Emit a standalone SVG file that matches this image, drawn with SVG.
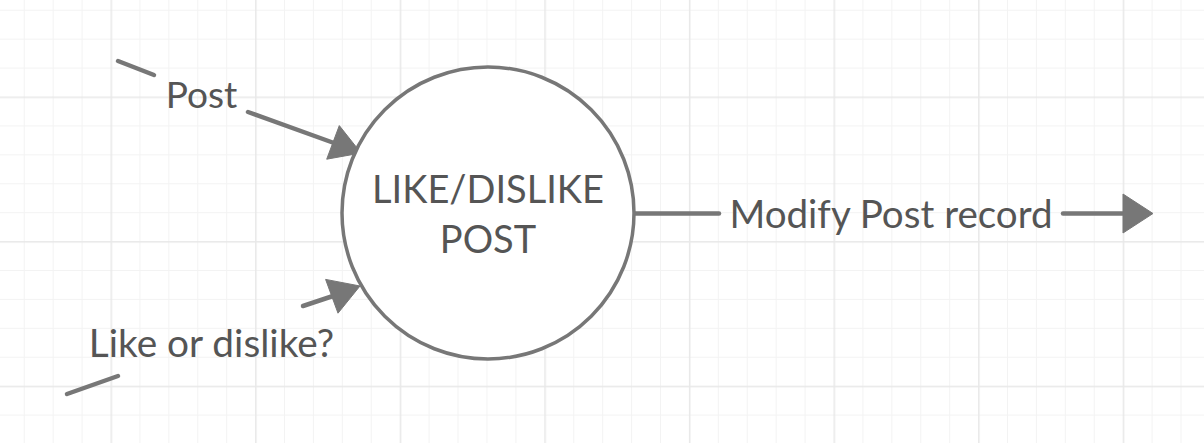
<svg xmlns="http://www.w3.org/2000/svg" width="1204" height="443" viewBox="0 0 1204 443">
  <defs>
    <pattern id="grid" patternUnits="userSpaceOnUse" x="110.5" y="96.5" width="144.6" height="144.6">
      <g fill="#f3f3f3">
        <rect x="28.92" y="0" width="1" height="144.6"/>
        <rect x="57.84" y="0" width="1" height="144.6"/>
        <rect x="86.76" y="0" width="1" height="144.6"/>
        <rect x="115.68" y="0" width="1" height="144.6"/>
        <rect x="0" y="28.92" width="144.6" height="1"/>
        <rect x="0" y="57.84" width="144.6" height="1"/>
        <rect x="0" y="86.76" width="144.6" height="1"/>
        <rect x="0" y="115.68" width="144.6" height="1"/>
      </g>
      <g fill="#e8e8e8">
        <rect x="0" y="0" width="1.5" height="144.6"/>
        <rect x="0" y="0" width="144.6" height="1.5"/>
      </g>
    </pattern>
    <style>
      .lbl { font-family: Lato, "Liberation Sans", sans-serif; fill: #555555; }
      .conn { stroke: #777777; stroke-width: 4.5; fill: none; stroke-linecap: round; }
      .head { fill: #777777; stroke: #777777; stroke-width: 1; stroke-linejoin: round; }
    </style>
  </defs>
  <rect width="1204" height="443" fill="#ffffff"/>
  <rect width="1204" height="443" fill="url(#grid)"/>

  <g id="connectors">
    <g id="conn-post">
      <line class="conn" x1="118" y1="61" x2="154" y2="75"/>
      <line class="conn" x1="248" y1="112" x2="334" y2="143"/>
      <polygon class="head" points="361,153 326.7,159.2 339.3,125.6"/>
      <text class="lbl" x="201.5" y="108" font-size="37" text-anchor="middle">Post</text>
    </g>
    <g id="conn-like">
      <line class="conn" x1="67" y1="394" x2="118" y2="376"/>
      <line class="conn" x1="303" y1="306" x2="333" y2="296"/>
      <polygon class="head" points="360,286 325.6,279.4 338,313.2"/>
      <text class="lbl" x="211.5" y="357" font-size="38.8" text-anchor="middle">Like or dislike?</text>
    </g>
    <g id="conn-modify">
      <line class="conn" x1="634" y1="213.5" x2="719" y2="213.5"/>
      <line class="conn" x1="1063" y1="213.5" x2="1125" y2="213.5"/>
      <polygon class="head" points="1123,194 1153,213.5 1123,233"/>
      <text class="lbl" x="891" y="228" font-size="38.6" text-anchor="middle">Modify Post record</text>
    </g>
  </g>

  <g id="node-likedislike">
    <circle cx="488" cy="213" r="146" fill="#ffffff" stroke="#777777" stroke-width="3.5"/>
    <text class="lbl" x="488" y="203" font-size="38" text-anchor="middle">LIKE/DISLIKE</text>
    <text class="lbl" x="488" y="253" font-size="38" text-anchor="middle">POST</text>
  </g>
</svg>
